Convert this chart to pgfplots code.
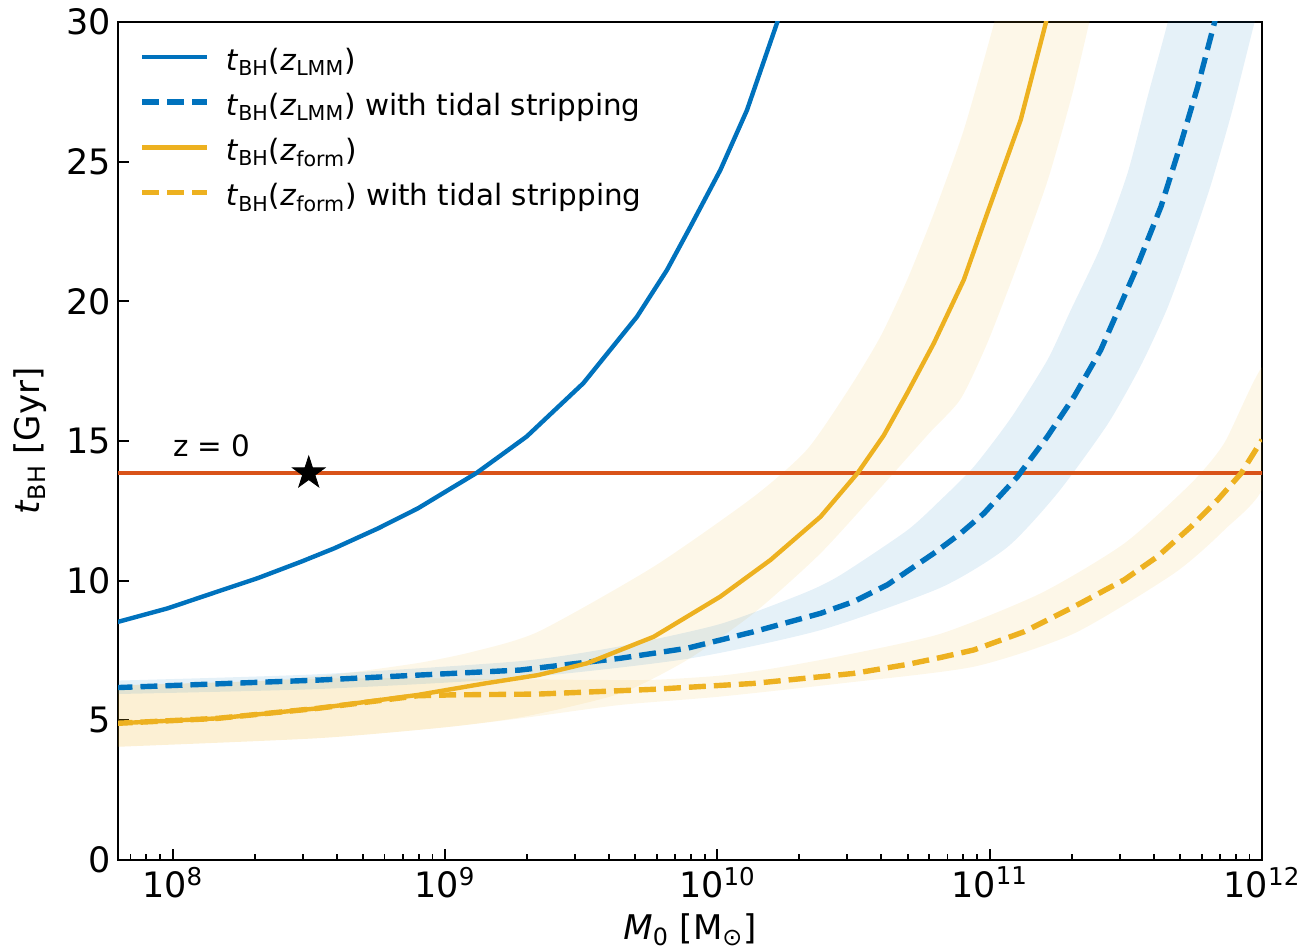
\documentclass[border=0pt]{standalone}
\usepackage{fontspec}
\setmainfont{DejaVu Sans}
\usepackage{pgfplots}
\usepackage{pgfplotstable}
\pgfplotsset{compat=1.18}

\definecolor{cblue}{RGB}{0,114,189}
\definecolor{cyel}{RGB}{237,177,32}
\definecolor{cred}{RGB}{217,83,25}

\pgfdeclareplotmark{fstar}{%
 \pgfpathmoveto{\pgfqpoint{0pt}{\pgfplotmarksize}}%
 \pgfpathlineto{\pgfqpoint{0.2245\pgfplotmarksize}{0.3090\pgfplotmarksize}}%
 \pgfpathlineto{\pgfqpoint{0.9511\pgfplotmarksize}{0.3090\pgfplotmarksize}}%
 \pgfpathlineto{\pgfqpoint{0.3633\pgfplotmarksize}{-0.1180\pgfplotmarksize}}%
 \pgfpathlineto{\pgfqpoint{0.5878\pgfplotmarksize}{-0.8090\pgfplotmarksize}}%
 \pgfpathlineto{\pgfqpoint{0pt}{-0.3820\pgfplotmarksize}}%
 \pgfpathlineto{\pgfqpoint{-0.5878\pgfplotmarksize}{-0.8090\pgfplotmarksize}}%
 \pgfpathlineto{\pgfqpoint{-0.3633\pgfplotmarksize}{-0.1180\pgfplotmarksize}}%
 \pgfpathlineto{\pgfqpoint{-0.9511\pgfplotmarksize}{0.3090\pgfplotmarksize}}%
 \pgfpathlineto{\pgfqpoint{-0.2245\pgfplotmarksize}{0.3090\pgfplotmarksize}}%
 \pgfpathclose
 \pgfusepathqfillstroke}

% log10(M0)  t_BH [Gyr]
\pgfplotstableread{
lm t
7.79 8.50
7.982 9.01
8.165 9.61
8.3125 10.09
8.472 10.68
8.594 11.16
8.754 11.87
8.901 12.59
9.023 13.31
9.115 13.85
9.207 14.50
9.300 15.16
9.508 17.07
9.705 19.45
9.815 21.12
9.901 22.67
10.011 24.70
10.109 26.85
10.219 29.96
10.25 31.0
}\bluesolid

\pgfplotstableread{
lm t
7.79 6.17
8.533 6.44
9.276 6.80
9.643 7.22
9.889 7.58
10.133 8.17
10.379 8.83
10.501 9.25
10.624 9.85
10.795 10.98
10.893 11.69
10.979 12.41
11.102 13.72
11.212 15.16
11.310 16.59
11.408 18.26
11.531 21.00
11.629 23.39
11.702 25.65
11.764 27.69
11.825 29.96
11.85 31.0
}\bluedash

\pgfplotstableread{
lm t
7.79 6.42
8.533 6.65
9.276 7.12
9.643 7.65
10.011 8.45
10.317 9.55
10.452 10.2
10.697 11.8
10.82 12.89
10.942 14.08
11.077 15.81
11.212 17.9
11.298 19.69
11.408 21.96
11.506 24.58
11.580 27.33
11.653 29.96
11.70 32.0
12.01 31.2
11.972 29.96
11.89 26.8
11.81 24.1
11.73 21.8
11.65 19.7
11.555 17.7
11.433 15.6
11.249 13.13
11.065 11.2
10.82 9.75
10.379 8.23
9.889 7.20
9.276 6.52
8.533 6.12
7.79 5.94
}\blueband

\pgfplotstableread{
lm t
7.79 4.89
8.165 5.07
8.533 5.43
8.901 5.91
9.146 6.32
9.342 6.62
9.521 7.04
9.766 7.99
10.011 9.43
10.195 10.74
10.379 12.29
10.515 13.85
10.611 15.2
10.697 16.71
10.795 18.50
10.905 20.77
10.991 23.15
11.114 26.5
11.206 29.96
11.24 31.5
}\yelsolid

\pgfplotstableread{
lm t
7.79 4.89
8.165 5.07
8.533 5.43
8.901 5.88
9.023 5.91
9.342 5.94
9.766 6.11
10.133 6.32
10.501 6.68
10.697 7.00
10.82 7.25
10.942 7.52
11.126 8.17
11.310 9.07
11.494 10.03
11.616 10.86
11.739 11.93
11.837 12.89
11.923 13.84
12.0 15.04
}\yeldash

\pgfplotstableread{
lm t
7.79 6.25
8.3 6.4
8.6 6.65
8.9 7.05
9.1 7.45
9.342 8.17
9.766 10.5
10.133 13.0
10.33 14.7
10.489 16.95
10.599 18.74
10.697 20.77
10.795 23.15
10.905 26.14
11.016 29.96
11.05 31.5
11.40 31.5
11.365 29.96
11.30 27.3
11.212 24.3
11.102 21.3
10.991 18.5
10.893 16.5
10.78 15.3
10.624 13.6
10.379 10.98
10.133 8.83
9.889 7.16
9.643 5.96
9.3 5.15
9.0 4.75
8.533 4.36
7.79 4.05
}\yelband

\pgfplotstableread{
lm t
7.79 6.25
8.3 6.4
8.6 6.5
9.0 6.5
9.5 6.45
9.766 6.45
10.011 6.6
10.2 6.85
10.452 7.3
10.82 8.1
11.188 9.55
11.494 11.33
11.739 13.48
11.861 14.92
12.01 17.7
12.01 13.5
11.861 11.81
11.677 10.26
11.31 8.11
10.942 6.92
10.452 6.32
10.011 5.85
9.643 5.55
9.3 5.1
9.0 4.75
8.533 4.36
7.79 4.05
}\yeldashband

\begin{document}
\begin{tikzpicture}
\begin{axis}[
  scale only axis, width=572pt, height=419pt,
  xmode=log, xmin=6.3e7, xmax=1e12, ymin=0, ymax=30,
  xtick={1e8,1e9,1e10,1e11,1e12},
  xticklabels={10\textsuperscript{8},10\textsuperscript{9},10\textsuperscript{10},10\textsuperscript{11},10\textsuperscript{12}},
  minor xtick={7e7,8e7,9e7,2e8,3e8,4e8,5e8,6e8,7e8,8e8,9e8,2e9,3e9,4e9,5e9,6e9,7e9,8e9,9e9,2e10,3e10,4e10,5e10,6e10,7e10,8e10,9e10,2e11,3e11,4e11,5e11,6e11,7e11,8e11,9e11},
  ytick={0,5,10,15,20,25,30},
  /pgf/number format/assume math mode=true,
  tick pos=left, tick align=inside,
  major tick length=5.5pt, minor tick length=3pt,
  every tick/.style={black, line width=0.9pt},
  axis line style={line width=1pt},
  tick label style={font=\fontsize{17.5}{20}\selectfont},
  label style={font=\fontsize{17}{20}\selectfont},
  xlabel={\textit{M}\textsubscript{0} [M\textsubscript{⊙}]},
  ylabel={\textit{t}\textsubscript{BH} [Gyr]},
  xlabel style={yshift=-1pt},
  ylabel style={yshift=3pt},
  legend cell align=left,
  legend image code/.code={\draw[#1] (0pt,0.32em) -- (32.5pt,0.32em);},
  legend style={at={(rel axis cs:0,1)}, anchor=north west, xshift=10.5pt, yshift=-12pt,
    draw=none, fill=none, inner sep=0pt, row sep=5.6pt, column sep=8pt,
    font=\fontsize{14.7}{17}\selectfont,
    nodes={inner sep=0pt, text height=12pt, text depth=5pt}},
]
% bands
\addplot[fill=cyel, fill opacity=0.1, draw=none, smooth, tension=0.4, forget plot] table[x expr=10^\thisrow{lm}, y=t] {\yelband};
\addplot[fill=cyel, fill opacity=0.1, draw=none, smooth, tension=0.4, forget plot] table[x expr=10^\thisrow{lm}, y=t] {\yeldashband};
\addplot[fill=cblue, fill opacity=0.1, draw=none, smooth, tension=0.4, forget plot] table[x expr=10^\thisrow{lm}, y=t] {\blueband};
% z=0 line
\addplot[cred, line width=2pt, forget plot] coordinates {(5e7,13.85) (2e12,13.85)};
% curves
\addplot[cblue, line width=2.2pt] table[x expr=10^\thisrow{lm}, y=t] {\bluesolid};
\addlegendentry{\textit{t}\textsubscript{BH}(\textit{z}\textsubscript{LMM})}
\addplot[cblue, line width=2.7pt, dash pattern=on 8.5pt off 4pt] table[x expr=10^\thisrow{lm}, y=t] {\bluedash};
\addlegendentry{\textit{t}\textsubscript{BH}(\textit{z}\textsubscript{LMM}) with tidal stripping}
\addplot[cyel, line width=2.2pt] table[x expr=10^\thisrow{lm}, y=t] {\yelsolid};
\addlegendentry{\textit{t}\textsubscript{BH}(\textit{z}\textsubscript{form})}
\addplot[cyel, line width=2.7pt, dash pattern=on 8.5pt off 4pt] table[x expr=10^\thisrow{lm}, y=t] {\yeldash};
\addlegendentry{\textit{t}\textsubscript{BH}(\textit{z}\textsubscript{form}) with tidal stripping}
% star
\addplot[only marks, mark=fstar, mark size=8.5pt, black, forget plot] coordinates {(3.16e8,13.85)};
\node[anchor=base west, inner sep=0pt, font=\fontsize{14.7}{17}\selectfont] at (axis cs:1e8,14.43) {z = 0};
\end{axis}
\pgfresetboundingbox
\path[use as bounding box] ([xshift=-59pt,yshift=-45pt]current axis.south west) rectangle ([xshift=25pt,yshift=11pt]current axis.north east);
\end{tikzpicture}
\end{document}
